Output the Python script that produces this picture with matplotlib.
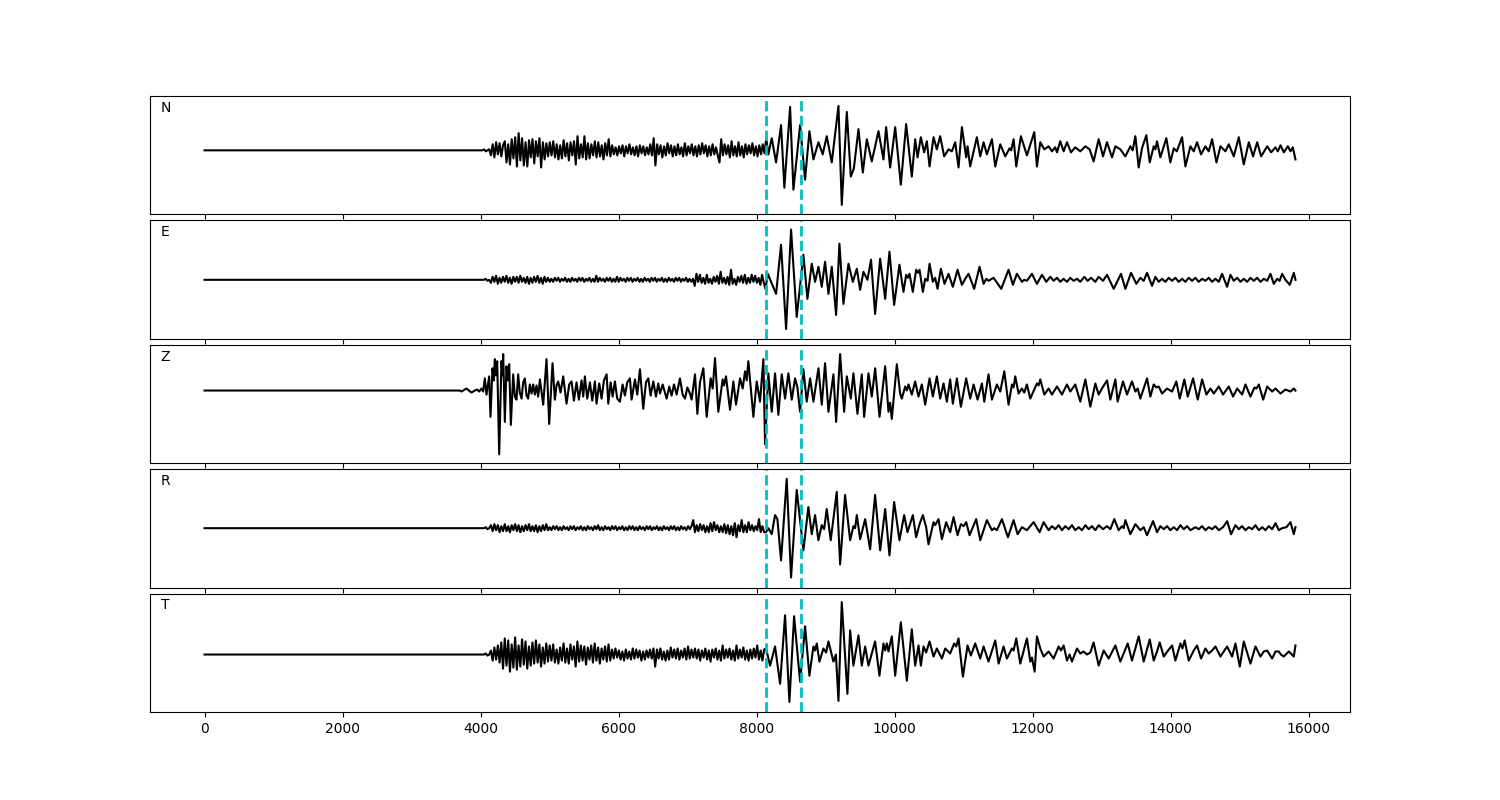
import numpy as np
import matplotlib
matplotlib.use('Agg')
import matplotlib.pyplot as plt

# component names, top to bottom
channels = ['N', 'E', 'Z', 'R', 'T']

# the two picked arrivals (dashed lines)
picks = [8140, 8645]

# --- N component ---
# early coda, read at an even step between 4000 and 8140
n_noise = [0, 0, 1, -1, 0, 1,
           -5, 6, -7, 8, -4, 7, -6, 5,
           9, -12, 6, -14, 11, -8, 13, -16, 17, -10, 12, -15, 8, -16, 10, -7, 11, -13, 9, -6, 12, -17, 8, -9, 7,
           -6, 8, -5, 9, -7, 6, -9, 5, -8, 10, -6, 7, -10, 8, -5, 9, -14, 14, -8, 6, -7,
           14, -9, 7, -8, 6, -5, 9, -7, 8, -6, 5, -9, 7, -5, 11, -6,
           5, -4, 3, -5, 4, -3, 5, -6, 4, -3, 6, -4, 3, -5, 4, -6, 5, -3, 4, -5, 3, -4, 6, -5,
           12, -15,
           6, -4, 5, -7, 4, -5, 7, -3, 5, -6, 4, -5, 6, -4, 3, -6, 7, -5, 4, -3, 6, -5, 4, -6, 5, -4, 7, -3, 5, -6, 4, -5, 6, -4, 3, -5,
           -12, 11, -5, 6, -4, 5, -7, 9, -5, 4, -6, 8, -5, 4, -7, 6, -4, 5, -3, 7, -5, 4, -6, 5, -4, 6, -3, 12]
# later part, (time, amplitude) of each peak
n_peaks = [(8171, -4), (8220, 12), (8283, -12), (8355, 25), (8403, -37), (8486, 43), (8534, -39), (8631, 25),
           (8703, -29), (8766, 19), (8824, -9), (8897, 8), (8959, -4), (9017, 14), (9090, -12), (9187, 44),
           (9235, -54), (9308, 38), (9366, -26), (9410, -18), (9477, 21), (9540, -22), (9598, 11), (9670, -11),
           (9767, 19), (9839, -9), (9878, 23), (9936, -17), (10009, 23), (10091, -34), (10168, 26), (10250, -26),
           (10299, 11), (10333, -7), (10381, 13), (10429, -2), (10468, 9), (10507, -16), (10565, 13), (10613, 1),
           (10661, 14), (10719, -6), (10782, 1), (10831, -1), (10879, 8), (10927, -17), (10976, 23), (11038, -7),
           (11058, 4), (11096, -16), (11193, 13), (11242, -6), (11290, 8), (11338, -4), (11411, 11), (11459, -16),
           (11532, 6), (11604, -6), (11667, 2), (11690, 0), (11725, 11), (11764, -16), (11831, 14), (11918, -5),
           (12025, 18), (12063, -16), (12112, 8), (12170, 1), (12233, 4), (12281, -1), (12329, 3), (12354, -2),
           (12402, 9), (12450, -1), (12499, 8), (12557, -2), (12619, 3), (12692, -1), (12765, 4), (12827, 1),
           (12885, -11), (12958, 11), (13021, -6), (13079, 8), (13151, -7), (13200, 4), (13272, 1), (13345, -6),
           (13417, 4), (13451, 0), (13490, 14), (13538, -17), (13586, 2), (13649, 15), (13698, -12), (13756, 4),
           (13780, 1), (13804, 9), (13852, -7), (13939, 12), (13997, -12), (14046, 2), (14090, -1), (14167, 13),
           (14215, -16), (14288, 4), (14336, -1), (14384, 8), (14442, -4), (14505, 4), (14553, -1), (14602, 11),
           (14665, -12), (14723, 4), (14795, -1), (14844, 6), (14916, -6), (14989, 13), (15061, -14), (15134, 8),
           (15196, -6), (15255, 8), (15313, -6), (15400, 4), (15458, -2), (15520, 3), (15554, -1), (15593, 5),
           (15641, -2), (15700, 4), (15738, -1), (15772, 3), (15810, -9)]

# --- E component ---
e_noise = [0, 0, 0, 1, -1, 0,
           -3, 3, -2, 4, -4, 2, -3, 3, -2, 4, -3, 2, -4, 3, -2, 3, -3, 4, -2, 2, -3, 3, -4, 2, -3, 3, -2, 4, -3, 2, -4, 3, -2,
           2, -2, 1, -2, 2, -1, 2, -2, 1, -1, 2, -2,
           1, -2, 2, -1, 1, -2, 2, -1, 2, -2, 1, -1,
           2, -2, 1, -2, 4, -2, 2, -1, 1, -2, 2, -1,
           2, -2, 1, -2, 3, -2, 2, -1, 1, -2, 2, -1,
           2, -2, 1, -1, 2, -2, 1, -2, 2, -1, 1, -2,
           2, -1, 2, -2, 1, -1, 2, -2, 1, -2, 2, -1,
           1, -2, 2, -1, 2, -2, 1, -1, 2, -2, 1, -2,
           1, -6, 6, -2, 5, -3, 2, -4, 5, -3, 1, -4, 3, -2, 4, -4, 8, -3, 2, -4, 3, -5, 10, -4, 1, -5, 3, -2, 4, -3,
           5, -4, 2, -3, 5, -2, 4, -3, 2, -5, 5, -3, -9]
e_peaks = [(8162, 6), (8283, -14), (8355, 35), (8428, -49), (8500, 50), (8582, -37), (8679, 25), (8737, -19),
           (8800, 16), (8848, -2), (8897, 13), (8945, -7), (8993, 18), (9042, -14), (9090, 13), (9153, -35),
           (9201, 36), (9259, -24), (9332, 16), (9395, -2), (9453, 11), (9501, -10), (9549, 8), (9607, 0),
           (9659, 20), (9718, -34), (9791, 21), (9864, -19), (9926, 28), (9994, -25), (10071, 15), (10129, -12),
           (10168, 5), (10192, 2), (10216, 6), (10265, -12), (10313, 10), (10337, 7), (10362, 10), (10410, -12),
           (10444, 1), (10478, -1), (10507, 16), (10555, -2), (10589, 2), (10623, -9), (10671, 11), (10724, -4),
           (10782, 6), (10845, -7), (10913, 10), (10976, -5), (11024, 1), (11072, 6), (11154, -9), (11232, 13),
           (11290, -4), (11329, 1), (11362, -1), (11435, 2), (11546, -9), (11652, 10), (11715, -5), (11773, 6),
           (11846, -2), (11880, 0), (11918, -1), (11991, 6), (12063, -4), (12136, 5), (12199, -2), (12257, 3),
           (12305, -1), (12353, 2), (12402, -2), (12450, 1), (12499, -2), (12547, 2), (12595, -1), (12644, 1),
           (12692, -2), (12750, 3), (12798, -1), (12847, 2), (12910, -2), (12958, 3), (13021, -1), (13079, 5),
           (13176, -9), (13282, 6), (13345, -9), (13427, 7), (13504, -4), (13562, 2), (13611, -1), (13659, 7),
           (13732, -6), (13780, 3), (13828, -2), (13877, 1), (13925, -2), (13973, 2), (14022, -1), (14070, 2),
           (14118, -2), (14167, 1), (14215, -2), (14263, 2), (14312, -1), (14360, 2), (14408, -2), (14457, 1),
           (14505, -1), (14553, 2), (14602, -2), (14650, 1), (14699, -2), (14747, 6), (14819, -7), (14868, 5),
           (14916, -1), (14965, 2), (15013, -2), (15061, 1), (15110, -2), (15158, 2), (15206, -1), (15255, 2),
           (15303, -2), (15352, 1), (15400, -1), (15448, 6), (15496, -4), (15545, 1), (15580, -1), (15617, 6),
           (15665, 0), (15728, -5), (15786, 7), (15810, 0)]

# --- Z component (all peaks, it starts earlier) ---
z_noise = []
z_peaks = [(3699, 0), (3723, -1), (3796, 2), (3868, -2), (3917, 0), (3950, 1), (3980, -1), (4013, 2), (4038, -1),
           (4062, 12), (4086, -4), (4125, 14), (4144, -26), (4173, 22), (4192, 10), (4207, 31), (4221, 15),
           (4241, 29), (4270, -63), (4303, 29), (4318, 15), (4328, 36), (4352, -31), (4376, 24), (4395, 10),
           (4415, 26), (4439, -34), (4473, 16), (4497, -6), (4521, -9), (4545, 16), (4569, -2), (4594, -8),
           (4618, 8), (4642, 12), (4666, -5), (4690, -8), (4714, 6), (4739, -3), (4763, 6), (4787, -4), (4811, 5),
           (4835, -6), (4860, 11), (4908, -14), (4956, 31), (4995, -33), (5043, 27), (5077, -9), (5101, 5),
           (5125, 9), (5159, -2), (5198, 14), (5246, -13), (5285, 6), (5319, 9), (5353, -10), (5391, 8),
           (5425, -9), (5464, 10), (5488, -6), (5512, 14), (5546, -8), (5585, 8), (5619, -10), (5657, 9),
           (5681, -13), (5720, 7), (5754, -8), (5788, 10), (5827, 16), (5851, -13), (5885, 8), (5914, -6),
           (5947, 9), (5981, -8), (6020, -11), (6059, 6), (6092, -5), (6126, 8), (6165, 12), (6189, -9),
           (6238, 11), (6271, -4), (6310, 21), (6358, -18), (6397, 8), (6431, 12), (6465, -5), (6504, 9),
           (6542, -6), (6576, 7), (6600, -3), (6639, 6), (6697, -8), (6735, 4), (6769, -5), (6803, 6),
           (6842, -4), (6890, 12), (6929, -4), (6963, -8), (6997, 3), (7035, -3), (7059, -9), (7108, 16),
           (7142, -23), (7180, 8), (7229, 22), (7277, -26), (7335, 12), (7364, 2), (7398, 32), (7446, -21),
           (7509, 11), (7528, 5), (7557, 14), (7615, -19), (7664, 9), (7702, -14), (7761, 12), (7799, 2),
           (7833, 19), (7857, 10), (7881, 29), (7954, -26), (8002, 9), (8050, -11), (8099, 31), (8123, -53),
           (8171, 17), (8220, -21), (8268, 17), (8316, -24), (8365, 16), (8413, -8), (8461, 17), (8510, -9),
           (8558, 12), (8592, 3), (8631, -21), (8679, 21), (8727, -11), (8776, 12), (8824, -11), (8897, 22),
           (8945, -14), (8993, 27), (9042, -21), (9114, 16), (9153, -31), (9211, 36), (9269, -21), (9308, 14),
           (9366, -8), (9404, 17), (9462, -23), (9525, 16), (9559, -26), (9622, 17), (9670, -6), (9719, 22),
           (9782, -26), (9864, 24), (9912, -21), (9936, -12), (9960, -28), (10033, 26), (10081, -3), (10105, -8),
           (10154, 4), (10178, 0), (10202, 6), (10250, -4), (10299, 9), (10347, -6), (10395, 6), (10444, -14),
           (10507, 12), (10555, -6), (10613, 14), (10661, -8), (10710, 7), (10758, -11), (10806, 11), (10845, -13),
           (10903, 12), (10961, -16), (11038, 12), (11096, -8), (11145, 6), (11203, -9), (11266, 7), (11300, -11),
           (11362, 16), (11411, -9), (11483, 6), (11532, -1), (11590, 19), (11652, -14), (11701, 6), (11725, 3),
           (11749, 14), (11797, -3), (11846, 2), (11880, -2), (11918, 6), (11967, -8), (12063, 7), (12088, 5),
           (12112, 11), (12170, -4), (12233, 2), (12281, -4), (12354, 4), (12426, -4), (12499, 6), (12547, -1),
           (12619, 6), (12692, -11), (12765, 11), (12837, -16), (12910, 7), (12958, -4), (13006, 2), (13079, 10),
           (13127, -9), (13200, 11), (13233, -11), (13311, 9), (13369, -4), (13441, 9), (13490, -1), (13524, 2),
           (13562, -8), (13659, 12), (13707, -6), (13756, 6), (13794, 3), (13828, 4), (13877, -3), (13949, 2),
           (14022, -1), (14084, 9), (14133, -8), (14200, 11), (14249, -6), (14326, 12), (14394, -9), (14457, 11),
           (14520, -4), (14578, 2), (14626, -3), (14699, 4), (14761, -4), (14844, 4), (14906, -6), (14965, 2),
           (15037, -4), (15085, 6), (15158, -6), (15216, 3), (15245, 2), (15279, 6), (15342, -9), (15400, 4),
           (15472, -1), (15521, 2), (15593, -3), (15665, 1), (15738, -1), (15786, 2), (15810, 0)]

# --- R component ---
r_noise = [0, 0, 0, 1, -1, 0,
           3, -3, 4, -2, 3, -4, 2, -3, 4, -3, 2, -4, 3, -2, 4, -3, 3, -4, 2, -3, 3, -2, 4, -3, 2, -3, 3, -4, 2, -3, 3, -2, 4,
           -2, 1, -2, 2, -1, 2, -2, 1, -2, 2, -1, 1,
           -2, 2, -1, 2, -2, 1, -1, 2, -2, 1, -2, 2,
           -1, 1, -2, 2, -1, 3, -2, 1, -2, 2, -1, 1,
           -2, 2, -1, 2, -2, 1, -1, 2, -2, 1, -2, 2,
           -1, 2, -2, 1, -2, 2, -1, 1, -2, 2, -1, 2,
           -2, 1, -1, 2, -2, 1, -2, 2, -1, 1, -2, 2,
           -1, 2, -2, 1, -2, 2, -1, 1, -2, 2, -1, 2,
           8, -4, 3, -3, 4, -2, 3, -4, 2, -4, 5, -3, 6, -2, 3, -4, 2, -4, 4, -5, 3, -6, 2, -7, 5, -9, 3, -3, 8, -4,
           3, -4, 6, -2, 3, -3, 2, -2, 9, -4, 2, -4]
r_peaks = [(8137, -4), (8171, 0), (8220, -6), (8268, 13), (8302, 9), (8355, -32), (8437, 49), (8500, -49),
           (8582, 38), (8679, -22), (8751, 21), (8800, -6), (8848, 13), (8896, -12), (8945, 3), (8979, -1),
           (9017, 19), (9075, -12), (9162, 36), (9211, -36), (9283, 33), (9356, -12), (9404, 2), (9428, 0),
           (9453, 13), (9501, -11), (9574, 9), (9646, -21), (9718, 33), (9791, -22), (9864, 19), (9926, -27),
           (9994, 26), (10071, -12), (10139, 13), (10187, -4), (10265, 13), (10313, -9), (10362, 4), (10410, 13),
           (10458, 1), (10492, -16), (10565, 6), (10589, 3), (10637, 9), (10686, -11), (10748, 6), (10806, -4),
           (10855, 11), (10913, -7), (10961, 4), (11000, 2), (11038, 6), (11087, -7), (11183, 9), (11242, -12),
           (11338, 8), (11411, -2), (11445, 0), (11483, -2), (11556, 9), (11643, -9), (11725, 8), (11783, -6),
           (11846, 1), (11918, -2), (12015, 6), (12102, -4), (12160, 6), (12233, -2), (12281, 2), (12329, -1),
           (12378, 3), (12426, -2), (12474, 2), (12523, -1), (12571, 3), (12619, -2), (12668, 1), (12716, -2),
           (12765, 3), (12813, -1), (12861, 2), (12910, -2), (12958, 3), (13021, -1), (13079, 2), (13127, -1),
           (13185, 9), (13248, -2), (13296, 2), (13320, 0), (13345, 8), (13417, -6), (13490, 4), (13562, -2),
           (13611, 1), (13659, -7), (13746, 7), (13804, -4), (13852, 2), (13901, -1), (13949, 2), (13997, -2),
           (14046, 1), (14094, -2), (14143, 3), (14191, -1), (14239, 2), (14288, -2), (14360, 1), (14408, -1),
           (14457, 2), (14505, -2), (14553, 1), (14602, -1), (14650, 2), (14699, -2), (14761, 1), (14820, 7),
           (14877, -6), (14940, 3), (14989, -1), (15037, 2), (15085, -2), (15134, 1), (15182, -1), (15230, 3),
           (15279, -2), (15327, 1), (15375, -2), (15424, 2), (15472, -1), (15521, 5), (15569, -2), (15617, 0),
           (15680, 1), (15738, 6), (15786, -6), (15810, 1)]

# --- T component ---
t_noise = [0, 0, 0, 1, -1, 0,
           4, -6, 7, -5, 9, -8, 12, -14, 16, -11, 14, -17, 10, -13, 17, -15, 9, -12, 15, -10, 13, -14, 8, -11, 12, -9,
           14, -8, 10, -12, 7, -9, 11,
           -7, 9, -6, 10, -8, 5, -9, 7, -6, 11, -8, 6, -9, 10, -5, 8, -12, 13, -7, 9, -6, 8, -10, 7, -5, 9, -8, 11,
           -6, 7, -9, 6, -5, 8, -7, 10, -6,
           5, -4, 6, -3, 4, -5, 3, -6, 5, -4, 3, -5, 6, -4, 5, -3, 4, -6, 3, -5, 4, -3, 5, -4,
           6, -12,
           5, -4, 6, -5, 3, -6, 4, -5, 7, -3, 5, -4, 6, -5, 4, -3, 6, -5, 8, -4, 5, -3, 6, -4, 5, -6, 4, -3, 6, -5,
           4, -7, 5, -3, 6,
           -5, 4, -6, 9, -4, 5, -3, 6, -5, 4, -6, 9, -4, 5, -3, 7, -5, 4, -6, 5, -4, 6, -3, 9, -5, 4, -6, 5]
t_peaks = [(8137, 6), (8196, -11), (8268, 8), (8341, -29), (8413, 39), (8476, -47), (8544, 38), (8631, -27),
           (8703, 28), (8766, -21), (8824, 8), (8848, 4), (8872, 11), (8911, -7), (8969, 6), (9008, 2),
           (9042, 13), (9114, -7), (9150, 0), (9187, -46), (9235, 52), (9317, -39), (9356, 24), (9404, -11),
           (9477, 19), (9525, -11), (9574, 8), (9622, -11), (9718, 13), (9781, -21), (9839, 11), (9864, 4),
           (9888, 11), (9912, 3), (9960, 18), (10009, -21), (10091, 32), (10178, -26), (10250, 25), (10299, -11),
           (10347, 9), (10381, -11), (10420, 8), (10458, 2), (10507, 13), (10565, -2), (10613, 6), (10686, -4),
           (10734, 6), (10806, 1), (10864, 11), (10893, 8), (10927, 16), (10990, -22), (11058, 9), (11106, -1),
           (11169, 11), (11242, -4), (11290, 8), (11362, -7), (11459, 14), (11508, -9), (11580, 8), (11628, -4),
           (11701, 6), (11725, 4), (11764, 16), (11822, -9), (11918, 16), (11967, -7), (11991, -3), (12030, -17),
           (12063, 18), (12112, 6), (12160, -2), (12233, 3), (12305, -4), (12378, 8), (12412, 4), (12450, 9),
           (12499, -6), (12537, 0), (12571, -7), (12644, 6), (12692, 1), (12740, 3), (12789, 0), (12837, 2),
           (12885, 12), (12958, -11), (13031, 4), (13103, -4), (13200, 9), (13272, -7), (13379, 11), (13441, -6),
           (13538, 18), (13611, -7), (13698, 15), (13756, -6), (13804, 3), (13843, 12), (13901, -2), (13964, 4),
           (14022, 9), (14070, -6), (14143, 11), (14172, 6), (14205, 14), (14263, -6), (14336, 4), (14384, 9),
           (14442, -4), (14505, 6), (14553, 1), (14602, 4), (14650, 8), (14723, -2), (14771, 3), (14819, 8),
           (14892, -2), (14940, 11), (15003, -12), (15061, 13), (15110, 2), (15158, -9), (15230, 8), (15303, -2),
           (15351, 3), (15400, 4), (15472, -4), (15520, 3), (15569, 3), (15600, 0), (15640, -2), (15714, 3),
           (15786, -2), (15810, 9)]

# noise windows (start, end) of the evenly read parts
noise_windows = [(4000, 8140), (4000, 8130), (3700, 3700), (4000, 8110), (4000, 8110)]


def build(noise, window, peaks):
    t0, t1 = window
    t = [0, t0 - 10]
    a = [0, 0]
    t += list(np.linspace(t0, t1, len(noise)))
    a += noise
    t += [p[0] for p in peaks]
    a += [p[1] for p in peaks]
    return np.array(t), np.array(a)


traces = [build(n_noise, noise_windows[0], n_peaks),
          build(e_noise, noise_windows[1], e_peaks),
          build(z_noise, noise_windows[2], z_peaks),
          build(r_noise, noise_windows[3], r_peaks),
          build(t_noise, noise_windows[4], t_peaks)]

# vertical room above/below each trace
ylims = [(-63.5, 53.8), (-58.8, 59.2), (-71.8, 45.2), (-59.0, 58.6), (-57.0, 60.5)]

fig, axes = plt.subplots(5, 1, sharex=True, figsize=(15, 8), dpi=100)
fig.subplots_adjust(left=0.1, right=0.9, top=0.88, bottom=0.11, hspace=0.05)

for i, ax in enumerate(axes):
    t, a = traces[i]
    ax.plot(t, a, color='k', lw=1.5)
    for p in picks:
        ax.axvline(p, color='c', ls='--', lw=2)
    ax.set_ylim(ylims[i])
    ax.set_yticks([])
    ax.text(0.009, 0.9, channels[i], transform=ax.transAxes, va='center', ha='left', fontsize=10)

plt.savefig('out.png')
